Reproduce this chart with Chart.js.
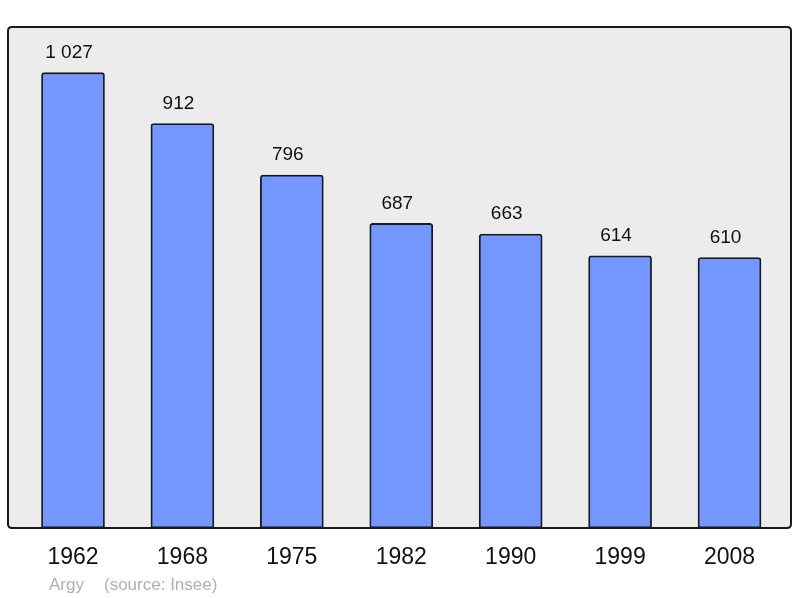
<!DOCTYPE html>
<html>
<head>
<meta charset="utf-8">
<script src="https://cdn.jsdelivr.net/npm/chart.js@4/dist/chart.umd.min.js"></script>
<style>
html,body{margin:0;padding:0;background:#fff;}
#wrap{position:relative;width:800px;height:598px;}
</style>
</head>
<body>
<div id="wrap"><canvas id="c" width="800" height="598"></canvas></div>
<script>
const years = ["1962","1968","1975","1982","1990","1999","2008"];
const population = [1027, 912, 796, 687, 663, 614, 610];
const valueLabels = ["1 027","912","796","687","663","614","610"];
const commune = "Argy";
const source = "(source: Insee)";

const FONT = "'Liberation Sans', Arial, sans-serif";

function roundRect(ctx, x, y, w, h, r) {
  ctx.beginPath();
  ctx.moveTo(x + r, y);
  ctx.lineTo(x + w - r, y);
  ctx.quadraticCurveTo(x + w, y, x + w, y + r);
  ctx.lineTo(x + w, y + h - r);
  ctx.quadraticCurveTo(x + w, y + h, x + w - r, y + h);
  ctx.lineTo(x + r, y + h);
  ctx.quadraticCurveTo(x, y + h, x, y + h - r);
  ctx.lineTo(x, y + r);
  ctx.quadraticCurveTo(x, y, x + r, y);
  ctx.closePath();
}

const framePlugin = {
  id: 'frame',
  beforeDatasetsDraw(chart) {
    const a = chart.chartArea, ctx = chart.ctx;
    ctx.save();
    roundRect(ctx, a.left, a.top, a.right - a.left, a.bottom - a.top, 4);
    ctx.fillStyle = '#ececec';
    ctx.fill();
    ctx.restore();
  },
  afterDatasetsDraw(chart) {
    const a = chart.chartArea, ctx = chart.ctx;
    ctx.save();
    roundRect(ctx, a.left, a.top, a.right - a.left, a.bottom - a.top, 4);
    ctx.lineWidth = 2;
    ctx.strokeStyle = '#1a1a1a';
    ctx.stroke();
    // value labels
    const meta = chart.getDatasetMeta(0);
    ctx.fillStyle = '#111';
    ctx.font = '19px ' + FONT;
    ctx.textAlign = 'center';
    ctx.textBaseline = 'middle';
    meta.data.forEach((bar, i) => {
      ctx.fillText(valueLabels[i], bar.x - 4, bar.y - 20);
    });
    // footer
    ctx.fillStyle = '#b0b0b0';
    ctx.font = '17px ' + FONT;
    ctx.textAlign = 'left';
    ctx.fillText(commune, 49, 585);
    ctx.fillText(source, 104, 585);
    ctx.restore();
  }
};

new Chart(document.getElementById('c'), {
  type: 'bar',
  data: {
    datasets: [{
      data: population.map((v, i) => ({x: i, y: v})),
      backgroundColor: '#7396ff',
      borderColor: '#1a1a1a',
      borderWidth: 1.8,
      borderSkipped: false,
      borderRadius: {topLeft: 3, topRight: 3, bottomLeft: 0, bottomRight: 0},
      barThickness: 63
    }]
  },
  options: {
    responsive: false,
    animation: false,
    devicePixelRatio: 1,
    layout: {padding: {left: 8, right: 9, top: 27, bottom: 10}},
    plugins: {legend: {display: false}, tooltip: {enabled: false}},
    scales: {
      x: {
        type: 'linear',
        offset: false,
        min: -0.594,
        max: 6.562,
        grid: {display: false, drawTicks: false, offset: false},
        border: {display: false},
        afterBuildTicks(axis) {
          axis.ticks = years.map((y, i) => ({value: i}));
        },
        afterFit(axis) { axis.height = 60; },
        ticks: {
          autoSkip: false,
          maxRotation: 0,
          padding: 16,
          color: '#111',
          font: {family: FONT, size: 23},
          callback: (v) => years[v]
        }
      },
      y: {
        display: false,
        min: 0,
        max: 1130
      }
    }
  },
  plugins: [framePlugin]
});
</script>
</body>
</html>
